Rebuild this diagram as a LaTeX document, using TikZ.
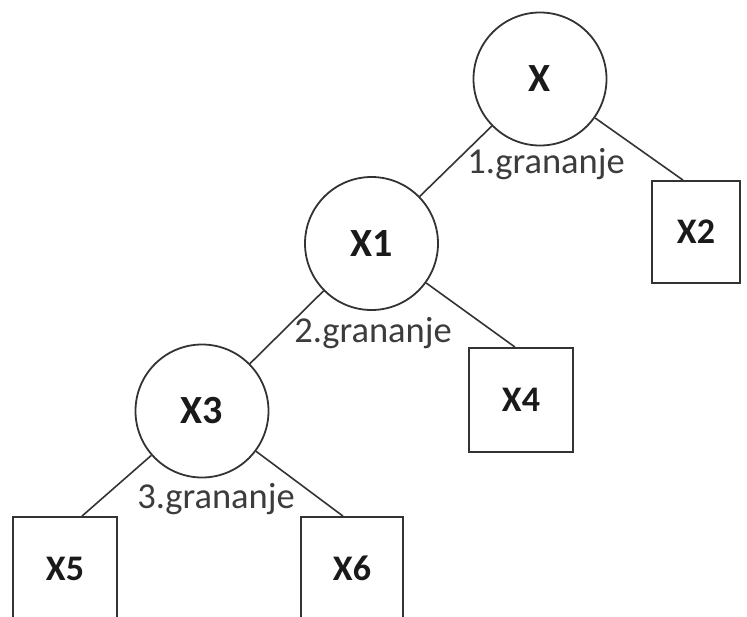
\documentclass[tikz,border=0pt]{standalone}
\usepackage{fontspec}
\setmainfont{Carlito}
\usetikzlibrary{calc}
\definecolor{ln}{HTML}{333333}
\definecolor{tx}{HTML}{1A1A1A}
\begin{document}
\begin{tikzpicture}[x=1pt,y=-1pt,
  circ/.style={draw=ln, circle, minimum size=133pt, inner sep=0pt, line width=1.8pt, text=tx, font=\fontsize{40}{46}\selectfont\bfseries},
  leaf/.style={draw=ln, rectangle, inner sep=0pt, line width=1.8pt, text=tx, font=\fontsize{36}{42}\selectfont\bfseries},
  edge/.style={draw=ln, line width=1.6pt},
  lbl/.style={inner sep=0pt, text=tx!85!white, font=\fontsize{36.5}{42}\selectfont}]
\useasboundingbox (0,0) rectangle (747,616);
\clip (0,0) rectangle (747,616);
\node[circ] (X) at (540,79) {X};
\node[circ] (X1) at (371.5,243.5) {X1};
\node[circ] (X3) at (202,411) {X3};
\node[leaf, minimum width=88pt, minimum height=102pt] (X2) at (696,232) {X2};
\node[leaf, minimum width=104pt, minimum height=104pt] (X4) at (521,400) {X4};
\node[leaf, minimum width=104pt, minimum height=103pt] (X5) at (65,568.5) {X5};
\node[leaf, minimum width=102pt, minimum height=103pt] (X6) at (352,568.5) {X6};
\draw[edge] (X) -- (X1);
\draw[edge] (X) -- ($(X2.north)+(-13,0)$);
\draw[edge] (X1) -- (X3);
\draw[edge] (X1) -- ($(X4.north)+(-6,0)$);
\draw[edge] (X3) -- ($(X5.north)+(17,0)$);
\draw[edge] (X3) -- ($(X6.north)+(-9,0)$);
\node[lbl] (L1) at (546,164) {1.grananje};
\node[lbl] (L2) at (373,333) {2.grananje};
\node[lbl] (L3) at (216,499) {3.grananje};
\end{tikzpicture}
\end{document}
